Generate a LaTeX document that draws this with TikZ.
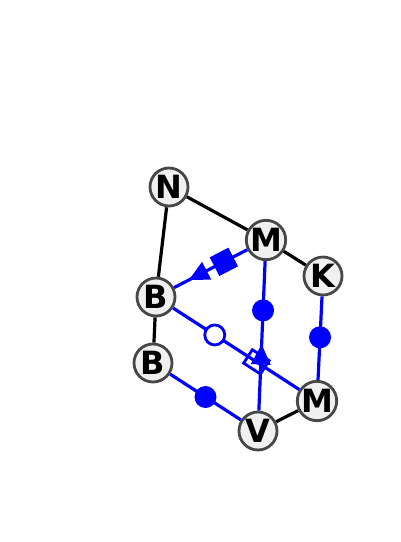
\documentclass[tikz,border=0pt]{standalone}
\usepackage{fontspec}
\setmainfont{DejaVu Sans}
\usetikzlibrary{shapes.geometric}
\pgfdeclarelayer{bg}
\pgfsetlayers{bg,main}
\begin{document}
\begin{tikzpicture}[x=1pt,y=-1pt,
  vtx/.style={circle,draw=black!72,fill=black!6,line width=2.8pt,minimum size=38pt,inner sep=0pt,font=\fontsize{32}{32}\selectfont\bfseries},
  bk/.style={line width=3.2pt,black},
  bl/.style={line width=3.2pt,blue},
  dotm/.style={circle,fill=blue,minimum size=22pt,inner sep=0pt},
  odot/.style={circle,draw=blue,fill=white,line width=2.8pt,minimum size=20pt,inner sep=0pt},
  fsq/.style={rectangle,fill=blue,sloped,allow upside down,minimum width=21pt,minimum height=21pt,inner sep=0pt},
  osq/.style={rectangle,draw=blue,line width=2.8pt,sloped,allow upside down,minimum width=20pt,minimum height=16pt,inner sep=0pt},
  tri/.style={isosceles triangle,isosceles triangle stretches,fill=blue,sloped,allow upside down,minimum width=20pt,minimum height=20pt,inner sep=0pt}]
\useasboundingbox (0,0) rectangle (400,542);
\node[vtx] (N) at (169,187) {N};
\node[vtx] (M1) at (266,240) {M};
\node[vtx] (K) at (323,276) {K};
\node[vtx] (B1) at (156,297) {B};
\node[vtx] (B2) at (153,363) {B};
\node[vtx] (M2) at (317,401) {M};
\node[vtx] (V) at (258,431) {V};
\begin{pgfonlayer}{bg}
\draw[bk] (N) -- (B1);
\draw[bk] (N) -- (M1);
\draw[bk] (M1) -- (K);
\draw[bk] (B1) -- (B2);
\draw[bk] (V) -- (M2);
\draw[bl] (M1) -- node[pos=0.32,fsq]{} node[pos=0.63,tri]{} (B1);
\draw[bl] (M1) -- node[pos=0.33,dotm]{} node[pos=0.65,tri,shape border rotate=180]{} (V);
\draw[bl] (K) -- node[pos=0.49,dotm]{} (M2);
\draw[bl] (B1) -- node[pos=0.33,odot]{} node[pos=0.66,osq]{} (M2);
\draw[bl] (B2) -- node[pos=0.5,dotm]{} (V);
\end{pgfonlayer}
\end{tikzpicture}
\end{document}
